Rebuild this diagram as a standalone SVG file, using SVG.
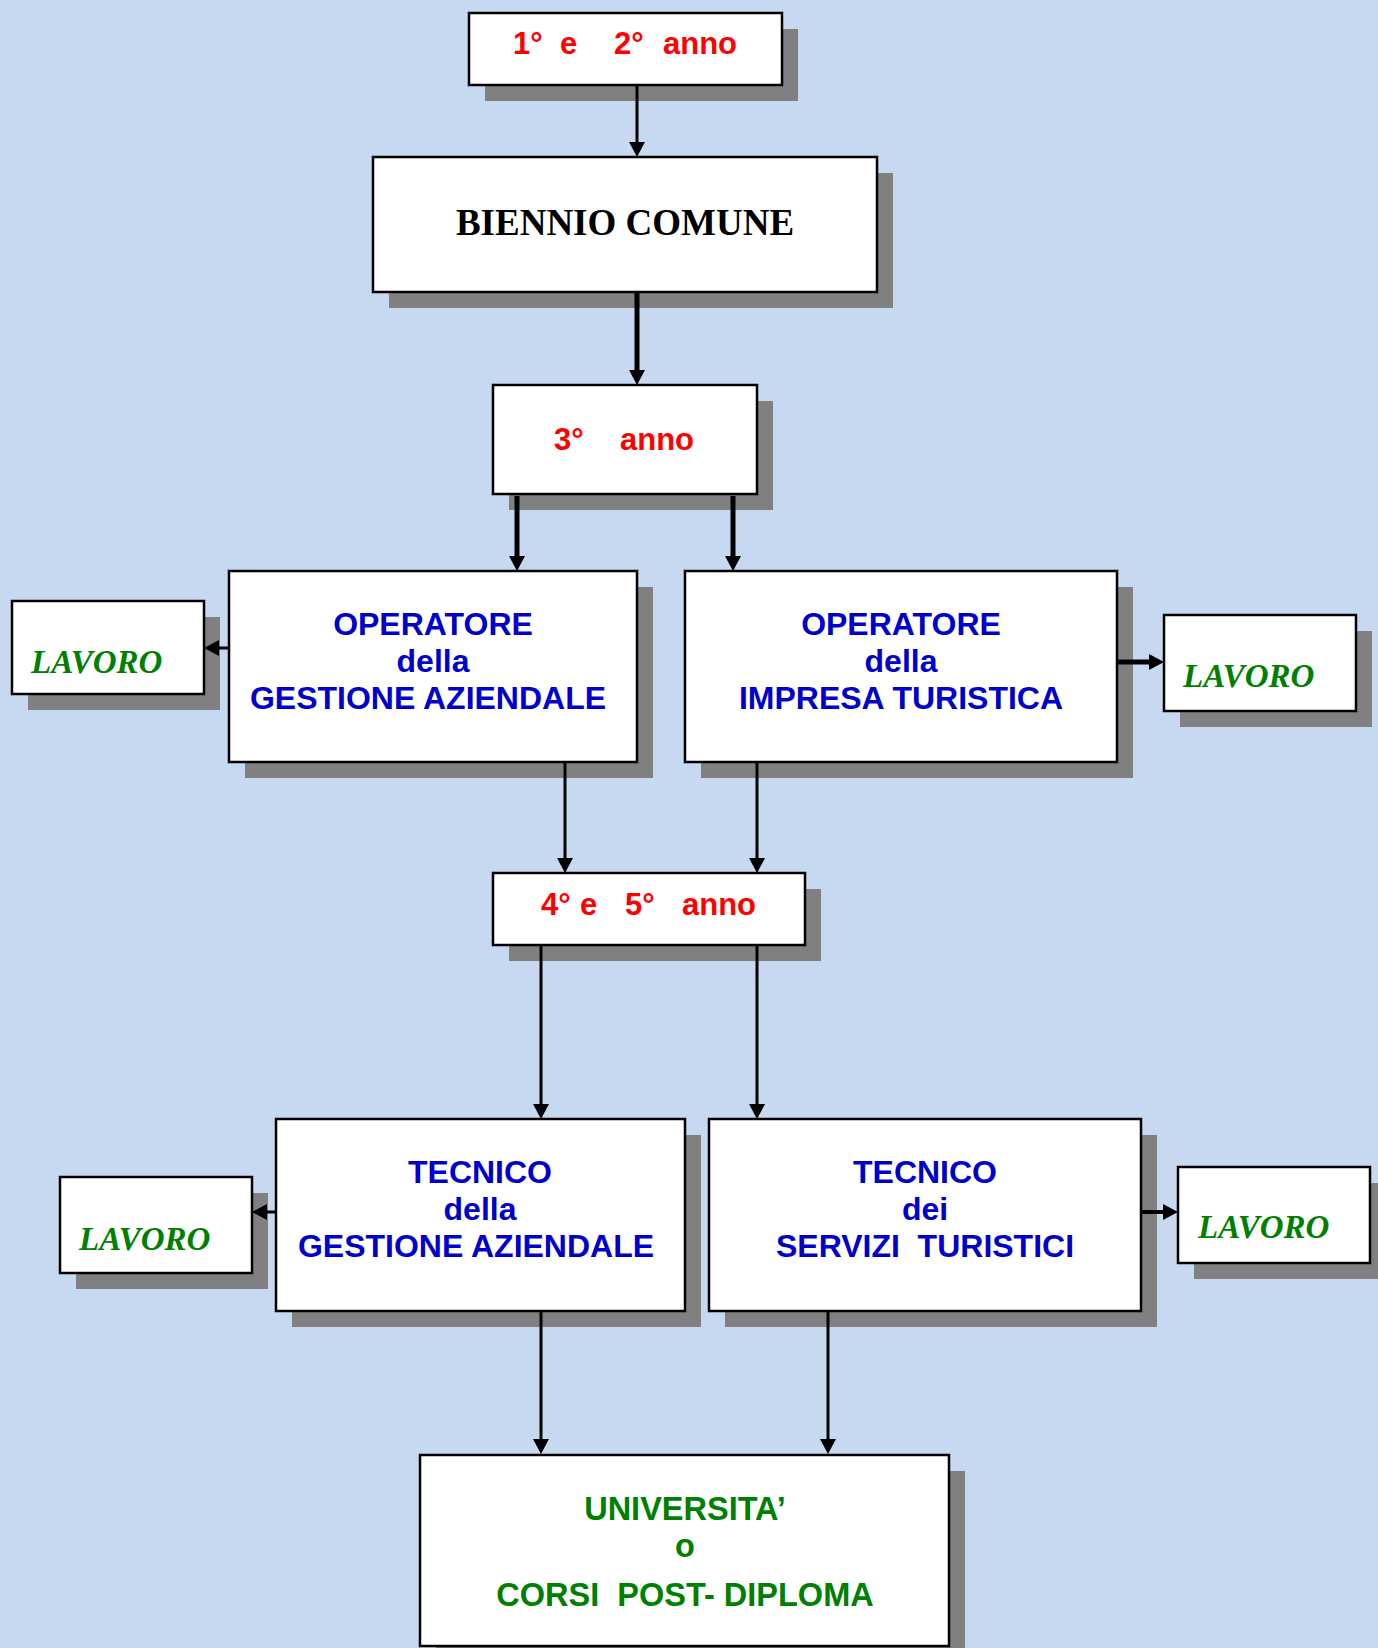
<svg xmlns="http://www.w3.org/2000/svg" width="1378" height="1648" viewBox="0 0 1378 1648">
<defs>
<style>
.bx{fill:#ffffff;stroke:#000000;stroke-width:2.5}
.sh{fill:#808080}
.c{fill:none;stroke:#000000;stroke-width:3}
.ck{fill:none;stroke:#000000;stroke-width:5}
.red{font-family:"Liberation Sans",Arial,sans-serif;font-weight:bold;font-size:31px;fill:#ff0000}
.blue{font-family:"Liberation Sans",Arial,sans-serif;font-weight:bold;font-size:32px;fill:#0000cc;text-anchor:middle}
.grn{font-family:"Liberation Sans",Arial,sans-serif;font-weight:bold;font-size:32.5px;fill:#008000;text-anchor:middle;white-space:pre}
.lav{font-family:"Liberation Serif","Times New Roman",serif;font-weight:bold;font-style:italic;font-size:33px;fill:#008000}
.ser{font-family:"Liberation Serif","Times New Roman",serif;font-weight:bold;font-size:37px;fill:#000000;text-anchor:middle}
</style>
<marker id="ah" markerUnits="userSpaceOnUse" markerWidth="16" markerHeight="16" viewBox="0 0 15 16" refX="5" refY="8" orient="auto">
<path d="M0,0 L15,8 L0,16 Z" fill="#000000"/>
</marker>
</defs>
<rect x="0" y="0" width="1378" height="1648" fill="#c6d9f0"/>

<g id="n-anno12">
<rect class="sh" x="485" y="29" width="313" height="72"/>
<rect class="bx" x="469" y="13" width="313" height="72"/>
<text class="red" y="54"><tspan x="513">1°</tspan><tspan x="560">e</tspan><tspan x="614">2°</tspan><tspan x="663">anno</tspan></text>
</g>

<g id="n-biennio">
<rect class="sh" x="389" y="173" width="504" height="135"/>
<rect class="bx" x="373" y="157" width="504" height="135"/>
<text class="ser" x="625" y="235">BIENNIO COMUNE</text>
</g>

<g id="n-anno3">
<rect class="sh" x="509" y="401" width="264" height="109"/>
<rect class="bx" x="493" y="385" width="264" height="109"/>
<text class="red" y="450"><tspan x="554">3°</tspan><tspan x="620">anno</tspan></text>
</g>

<g id="n-op-gest">
<rect class="sh" x="245" y="587" width="408" height="191"/>
<rect class="bx" x="229" y="571" width="408" height="191"/>
<text class="blue" x="433" y="635">OPERATORE</text>
<text class="blue" x="433" y="672">della</text>
<text class="blue" x="428" y="709">GESTIONE AZIENDALE</text>
</g>

<g id="n-lavoro1">
<rect class="sh" x="28" y="617" width="192" height="93"/>
<rect class="bx" x="12" y="601" width="192" height="93"/>
<text class="lav" x="31" y="673">LAVORO</text>
</g>

<g id="n-op-tur">
<rect class="sh" x="701" y="587" width="432" height="191"/>
<rect class="bx" x="685" y="571" width="432" height="191"/>
<text class="blue" x="901" y="635">OPERATORE</text>
<text class="blue" x="901" y="672">della</text>
<text class="blue" x="901" y="709">IMPRESA TURISTICA</text>
</g>

<g id="n-lavoro2">
<rect class="sh" x="1180" y="631" width="192" height="96"/>
<rect class="bx" x="1164" y="615" width="192" height="96"/>
<text class="lav" x="1183" y="687">LAVORO</text>
</g>

<g id="n-anno45">
<rect class="sh" x="509" y="889" width="312" height="72"/>
<rect class="bx" x="493" y="873" width="312" height="72"/>
<text class="red" y="915"><tspan x="541">4°</tspan><tspan x="580">e</tspan><tspan x="625">5°</tspan><tspan x="682">anno</tspan></text>
</g>

<g id="n-tec-gest">
<rect class="sh" x="292" y="1135" width="409" height="192"/>
<rect class="bx" x="276" y="1119" width="409" height="192"/>
<text class="blue" x="480" y="1183">TECNICO</text>
<text class="blue" x="480" y="1220">della</text>
<text class="blue" x="476" y="1257">GESTIONE AZIENDALE</text>
</g>

<g id="n-lavoro3">
<rect class="sh" x="76" y="1193" width="192" height="96"/>
<rect class="bx" x="60" y="1177" width="192" height="96"/>
<text class="lav" x="79" y="1250">LAVORO</text>
</g>

<g id="n-tec-tur">
<rect class="sh" x="725" y="1135" width="432" height="192"/>
<rect class="bx" x="709" y="1119" width="432" height="192"/>
<text class="blue" x="925" y="1183">TECNICO</text>
<text class="blue" x="925" y="1220">dei</text>
<text class="blue" x="925" y="1257" style="white-space:pre">SERVIZI  TURISTICI</text>
</g>

<g id="n-lavoro4">
<rect class="sh" x="1194" y="1183" width="192" height="96"/>
<rect class="bx" x="1178" y="1167" width="192" height="96"/>
<text class="lav" x="1198" y="1238">LAVORO</text>
</g>

<g id="n-univ">
<rect class="sh" x="436" y="1471" width="529" height="191"/>
<rect class="bx" x="420" y="1455" width="529" height="191"/>
<text class="grn" x="685" y="1520">UNIVERSITA’</text>
<text class="grn" x="685" y="1557">o</text>
<text class="grn" x="685" y="1606">CORSI  POST- DIPLOMA</text>
</g>

<g id="connectors">
<path class="c" d="M637,86 V147" marker-end="url(#ah)"/>
<path class="ck" d="M637,293 V375" marker-end="url(#ah)"/>
<path class="ck" d="M517,496 V561" marker-end="url(#ah)"/>
<path class="ck" d="M733,496 V561" marker-end="url(#ah)"/>
<path class="c" d="M228,648 H214" marker-end="url(#ah)"/>
<path class="ck" d="M1118,662 H1154" marker-end="url(#ah)"/>
<path class="c" d="M565,763 V863" marker-end="url(#ah)"/>
<path class="c" d="M757,763 V863" marker-end="url(#ah)"/>
<path class="c" d="M541,946 V1109" marker-end="url(#ah)"/>
<path class="c" d="M757,946 V1109" marker-end="url(#ah)"/>
<path class="c" d="M275,1212 H262" marker-end="url(#ah)"/>
<path class="c" style="stroke-width:4" d="M1142,1212 H1168" marker-end="url(#ah)"/>
<path class="c" d="M541,1312 V1444" marker-end="url(#ah)"/>
<path class="c" d="M828,1312 V1444" marker-end="url(#ah)"/>
</g>
</svg>
